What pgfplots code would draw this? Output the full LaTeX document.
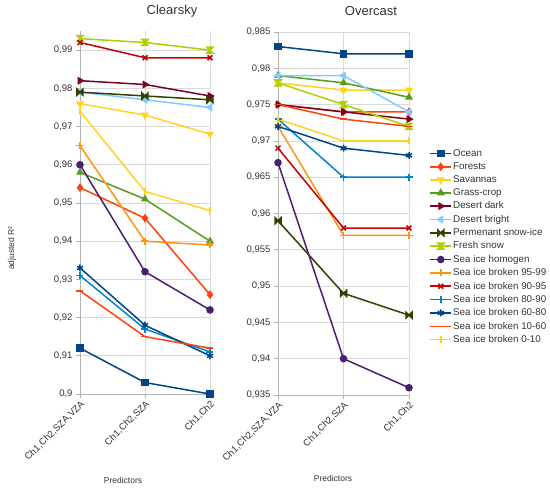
\documentclass[border=0pt]{standalone}
\usepackage{fontspec}
\setmainfont{Liberation Sans}
\usepackage{pgfplots}
\pgfplotsset{compat=1.18}

\definecolor{cOcean}{HTML}{004586}
\definecolor{cForest}{HTML}{FF420E}
\definecolor{cSav}{HTML}{FFD320}
\definecolor{cGrass}{HTML}{579D1C}
\definecolor{cDdark}{HTML}{7E0021}
\definecolor{cDbright}{HTML}{83CAFF}
\definecolor{cPerm}{HTML}{314004}
\definecolor{cFresh}{HTML}{AECF00}
\definecolor{cHomo}{HTML}{4B1F6F}
\definecolor{cA}{HTML}{FF950E}
\definecolor{cB}{HTML}{C5000B}
\definecolor{cC}{HTML}{0084D1}
\definecolor{cD}{HTML}{004586}
\definecolor{cE}{HTML}{FF420E}
\definecolor{cF}{HTML}{FFD320}
\definecolor{gridc}{HTML}{D9D9D9}
\definecolor{axc}{HTML}{B3B3B3}
\definecolor{txt}{HTML}{333333}

\pgfdeclareplotmark{bowtie}{%
  \pgfpathmoveto{\pgfqpoint{-\pgfplotmarksize}{\pgfplotmarksize}}%
  \pgfpathlineto{\pgfpointorigin}%
  \pgfpathlineto{\pgfqpoint{-\pgfplotmarksize}{-\pgfplotmarksize}}%
  \pgfpathclose
  \pgfpathmoveto{\pgfqpoint{\pgfplotmarksize}{\pgfplotmarksize}}%
  \pgfpathlineto{\pgfpointorigin}%
  \pgfpathlineto{\pgfqpoint{\pgfplotmarksize}{-\pgfplotmarksize}}%
  \pgfpathclose
  \pgfusepathqfillstroke}
\pgfdeclareplotmark{hourglass}{%
  \pgfpathmoveto{\pgfqpoint{-\pgfplotmarksize}{\pgfplotmarksize}}%
  \pgfpathlineto{\pgfqpoint{\pgfplotmarksize}{\pgfplotmarksize}}%
  \pgfpathlineto{\pgfpointorigin}%
  \pgfpathclose
  \pgfpathmoveto{\pgfqpoint{-\pgfplotmarksize}{-\pgfplotmarksize}}%
  \pgfpathlineto{\pgfqpoint{\pgfplotmarksize}{-\pgfplotmarksize}}%
  \pgfpathlineto{\pgfpointorigin}%
  \pgfpathclose
  \pgfusepathqfillstroke}

\pgfplotsset{
  chartstyle/.style={
    scale only axis,
    clip=false,
    xmin=0, xmax=2,
    xtick={0,1,2},
    xticklabels={{Ch1,Ch2,SZA,VZA},{Ch1,Ch2,SZA},{Ch1,Ch2}},
    xticklabel style={rotate=45, anchor=north east, font=\fontsize{9.5}{11}\selectfont, text=txt, inner sep=1pt},
    yticklabel style={font=\fontsize{9.5}{11}\selectfont, text=txt},
    /pgf/number format/.cd, use comma, fixed, precision=3, assume math mode=true,
    /pgfplots/.cd,
    axis x line*=bottom,
    axis y line*=left,
    axis line style={axc, line width=0.8pt, -},
    grid=major,
    major grid style={gridc, line width=0.8pt},
    tick style={axc, line width=0.8pt},
    tick align=outside,
    major tick length=4pt,
    every axis plot/.append style={line width=1.5pt},
    every mark/.append style={solid},
  },
  s1/.style={cOcean, mark=square*, mark size=3pt},
  s2/.style={cForest, mark=diamond*, mark size=3.2pt},
  s3/.style={cSav, mark=triangle*, mark size=3.2pt, mark options={rotate=180}},
  s4/.style={cGrass, mark=triangle*, mark size=3.2pt},
  s5/.style={cDdark, mark=triangle*, mark size=3.2pt, mark options={rotate=-90}},
  s6/.style={cDbright, mark=triangle*, mark size=3.2pt, mark options={rotate=90}},
  s7/.style={cPerm, mark=bowtie, mark size=3pt},
  s8/.style={cFresh, mark=hourglass, mark size=3pt},
  s9/.style={cHomo, mark=*, mark size=3pt},
  s10/.style={cA, mark=+, mark size=3.5pt},
  s11/.style={cB, mark=x, mark size=3.5pt},
  s12/.style={cC, mark=+, mark size=3.5pt},
  s13/.style={cD, mark=asterisk, mark size=3.5pt},
  s14/.style={cE, mark=-, mark size=3.5pt},
  s15/.style={cF, mark=|, mark size=3.5pt},
}

\begin{document}
\begin{tikzpicture}[x=1pt,y=1pt]
\useasboundingbox (0,0) rectangle (550,-488);

% ---------------- Clearsky ----------------
\begin{axis}[chartstyle,
  at={(80pt,-394pt)}, anchor=south west,
  width=130pt, height=363pt,
  ymin=0.9, ymax=0.995,
  ytick={0.9,0.91,0.92,0.93,0.94,0.95,0.96,0.97,0.98,0.99},
]
\addplot[s1]  coordinates {(0,0.912) (1,0.903) (2,0.900)};
\addplot[s2]  coordinates {(0,0.954) (1,0.946) (2,0.926)};
\addplot[s3]  coordinates {(0,0.976) (1,0.973) (2,0.968)};
\addplot[s4]  coordinates {(0,0.958) (1,0.951) (2,0.940)};
\addplot[s5]  coordinates {(0,0.982) (1,0.981) (2,0.978)};
\addplot[s6]  coordinates {(0,0.979) (1,0.977) (2,0.975)};
\addplot[s7]  coordinates {(0,0.979) (1,0.978) (2,0.977)};
\addplot[s8]  coordinates {(0,0.993) (1,0.992) (2,0.990)};
\addplot[s9]  coordinates {(0,0.960) (1,0.932) (2,0.922)};
\addplot[s10] coordinates {(0,0.965) (1,0.940) (2,0.939)};
\addplot[s11] coordinates {(0,0.992) (1,0.988) (2,0.988)};
\addplot[s12] coordinates {(0,0.931) (1,0.917) (2,0.911)};
\addplot[s13] coordinates {(0,0.933) (1,0.918) (2,0.910)};
\addplot[s14] coordinates {(0,0.927) (1,0.915) (2,0.912)};
\addplot[s15] coordinates {(0,0.974) (1,0.953) (2,0.948)};
\end{axis}

% ---------------- Overcast ----------------
\begin{axis}[chartstyle,
  at={(278pt,-395pt)}, anchor=south west,
  width=131pt, height=363pt,
  ymin=0.935, ymax=0.985,
  ytick={0.935,0.94,0.945,0.95,0.955,0.96,0.965,0.97,0.975,0.98,0.985},
  legend cell align=left,
  legend style={at={(1.155,0.680)}, anchor=north west, draw=none, fill=none,
    font=\fontsize{9.8}{11}\selectfont, text=txt, row sep=2.35pt,
    inner sep=0pt, nodes={inner sep=1.2pt}},
  legend image code/.code={\draw[mark repeat=2,mark phase=2,#1] plot coordinates {(0pt,0pt) (10.5pt,0pt) (21pt,0pt)};},
]
\addplot[s1]  coordinates {(0,0.983) (1,0.982) (2,0.982)};
\addlegendentry{Ocean}
\addplot[s2]  coordinates {(0,0.975) (1,0.974) (2,0.974)};
\addlegendentry{Forests}
\addplot[s3]  coordinates {(0,0.978) (1,0.977) (2,0.977)};
\addlegendentry{Savannas}
\addplot[s4]  coordinates {(0,0.979) (1,0.978) (2,0.976)};
\addlegendentry{Grass-crop}
\addplot[s5]  coordinates {(0,0.975) (1,0.974) (2,0.973)};
\addlegendentry{Desert dark}
\addplot[s6]  coordinates {(0,0.979) (1,0.979) (2,0.974)};
\addlegendentry{Desert bright}
\addplot[s7]  coordinates {(0,0.959) (1,0.949) (2,0.946)};
\addlegendentry{Permenant snow-ice}
\addplot[s8]  coordinates {(0,0.978) (1,0.975) (2,0.972)};
\addlegendentry{Fresh snow}
\addplot[s9]  coordinates {(0,0.967) (1,0.940) (2,0.936)};
\addlegendentry{Sea ice homogen}
\addplot[s10] coordinates {(0,0.972) (1,0.957) (2,0.957)};
\addlegendentry{Sea ice broken 95-99}
\addplot[s11] coordinates {(0,0.969) (1,0.958) (2,0.958)};
\addlegendentry{Sea ice broken 90-95}
\addplot[s12] coordinates {(0,0.973) (1,0.965) (2,0.965)};
\addlegendentry{Sea ice broken 80-90}
\addplot[s13] coordinates {(0,0.972) (1,0.969) (2,0.968)};
\addlegendentry{Sea ice broken 60-80}
\addplot[s14] coordinates {(0,0.975) (1,0.973) (2,0.972)};
\addlegendentry{Sea ice broken 10-60}
\addplot[s15] coordinates {(0,0.973) (1,0.970) (2,0.970)};
\addlegendentry{Sea ice broken 0-10}
\end{axis}

\node[font=\fontsize{13}{15}\selectfont, text=txt] at (172,-11) {Clearsky};
\node[font=\fontsize{13}{15}\selectfont, text=txt] at (371,-11) {Overcast};
\node[font=\fontsize{8.5}{10}\selectfont, text=txt, rotate=90] at (12,-248) {adjusted R²};
\node[font=\fontsize{8.5}{10}\selectfont, text=txt] at (123,-480) {Predictors};
\node[font=\fontsize{8.5}{10}\selectfont, text=txt] at (333,-478) {Predictors};
\end{tikzpicture}
\end{document}
